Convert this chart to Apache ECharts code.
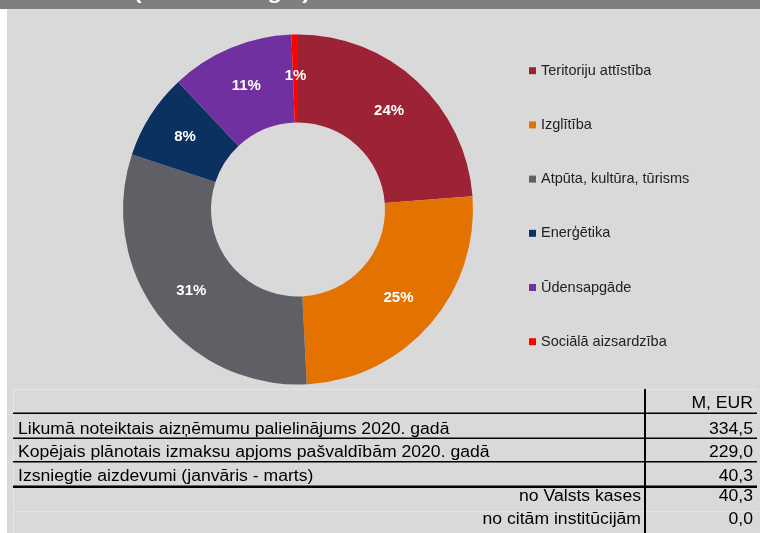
<!DOCTYPE html>
<html>
<head>
<meta charset="utf-8">
<script src="https://cdn.jsdelivr.net/npm/echarts@6/dist/echarts.min.js"></script>
<style>
  html, body { margin: 0; padding: 0; background: #ffffff; }
  #wrap { position: relative; width: 760px; height: 533px; overflow: hidden; }
  #bar { position: absolute; left: 0; top: 0; width: 760px; height: 9px; background: #7f7f7f; }
  #panel { position: absolute; left: 7px; top: 9px; width: 753px; height: 524px; background: #d9d9d9; }
  #chart { position: absolute; left: 0; top: 0; width: 760px; height: 533px; }
</style>
</head>
<body>
<div id="wrap">
  <div id="bar"></div>
  <div id="panel"></div>
  <div id="chart"></div>
</div>
<script>
// nozares un to daļa (%)
const categories = ["Teritoriju attīstība", "Izglītība", "Atpūta, kultūra, tūrisms", "Enerģētika", "Ūdensapgāde", "Sociālā aizsardzība"];
const shares = [23.8, 25.4, 30.9, 7.9, 11.4, 0.6];
const sliceColors = ["#9c2236", "#e37200", "#5f6065", "#0b3161", "#7030a0", "#ff0000"];

// tabula
const tableUnit = "M, EUR";
const tableLabels = [
  "Likumā noteiktais aizņēmumu palielinājums 2020. gadā",
  "Kopējais plānotais izmaksu apjoms pašvaldībām 2020. gadā",
  "Izsniegtie aizdevumi (janvāris - marts)",
  "no Valsts kases",
  "no citām institūcijām"
];
const tableValues = [334.5, 229.0, 40.3, 40.3, 0.0];

const titleText = "(% no izsniegtā)";

const FONT = '"Liberation Sans", Arial, sans-serif';

function fmt(v) {
  return v.toFixed(1).replace(".", ",");
}

//teksts ar horizontālu izstiepšanu
function txt(text, x, baseline, size, align, opts) {
  opts = opts || {};
  return {
    type: "text",
    x: x,
    y: baseline - 0.34 * size,
    scaleX: opts.scaleX || 1.1,
    z: 10,
    style: {
      text: text,
      font: (opts.bold ? "bold " : "") + size + "px " + FONT,
      fill: opts.color || "#000000",
      align: align,
      textAlign: align,
      verticalAlign: "middle",
      textVerticalAlign: "middle"
    }
  };
}

function hline(y, x1, x2, w, color) {
  return {
    type: "line",
    z: 5,
    shape: { x1: x1, y1: y, x2: x2, y2: y },
    style: { stroke: color, lineWidth: w }
  };
}

function vline(x, y1, y2, w, color) {
  return {
    type: "line",
    z: 5,
    shape: { x1: x, y1: y1, x2: x, y2: y2 },
    style: { stroke: color, lineWidth: w }
  };
}

//tabulas grafika
function buildTable() {
  let els = [];
  const left = 13, right = 757, colX = 645;
  const faint = "#e6e6e6";
  els.push(hline(389.5, left, right, 1, faint));
  els.push(hline(511.7, left, right, 1, faint));
  els.push(vline(13.5, 389, 533, 1, faint));
  els.push(hline(413.3, left, right, 1.6, "#000"));
  els.push(hline(438.3, left, right, 1.6, "#000"));
  els.push(hline(461.7, left, right, 1.6, "#000"));
  els.push(hline(486.8, left, right, 2.6, "#000"));
  els.push(vline(645, 389, 533, 2, "#000"));

  els.push(txt(tableUnit, 753, 409.3, 16, "right"));
  const baselines = [435, 458.3, 481.7, 501.7, 525.5];
  for (let i = 0; i < tableLabels.length; i++) {
    if (i < 3) {
      els.push(txt(tableLabels[i], 18, baselines[i], 16, "left"));
    } else {
      els.push(txt(tableLabels[i], colX - 4, baselines[i], 16, "right"));
    }
    els.push(txt(fmt(tableValues[i]), 753, baselines[i], 16, "right"));
  }
  //virsraksts (apgriezts augšā)
  els.push(txt(titleText, 134, 0.8, 21, "left", { bold: true, color: "#ffffff" }));
  return els;
}

const chart = echarts.init(document.getElementById("chart"), null, { renderer: "canvas" });

let pieData = [];
for (let i = 0; i < categories.length; i++) {
  pieData.push({ name: categories[i], value: shares[i], itemStyle: { color: sliceColors[i] } });
}

const option = {
  animation: false,
  backgroundColor: "transparent",
  legend: {
    orient: "vertical",
    left: 529,
    top: 62.7,
    padding: 0,
    icon: "rect",
    itemWidth: 7,
    itemHeight: 7,
    itemGap: 38.2,
    data: categories,
    textStyle: {
      fontFamily: FONT,
      fontSize: 14.5,
      lineHeight: 16,
      color: "#222222"
    }
  },
  series: [
    {
      type: "pie",
      center: [298, 209.5],
      radius: [87, 175],
      startAngle: 90,
      clockwise: true,
      avoidLabelOverlap: false,
      label: {
        show: true,
        position: "inside",
        color: "#ffffff",
        fontFamily: FONT,
        fontSize: 15,
        fontWeight: "bold",
        formatter: function(p) {
          return Math.round(p.percent) + "%";
        }
      },
      labelLine: { show: false },
      itemStyle: { borderWidth: 0 },
      emphasis: { disabled: true },
      data: pieData
    }
  ],
  graphic: buildTable()
};

chart.setOption(option);
</script>
</body>
</html>
